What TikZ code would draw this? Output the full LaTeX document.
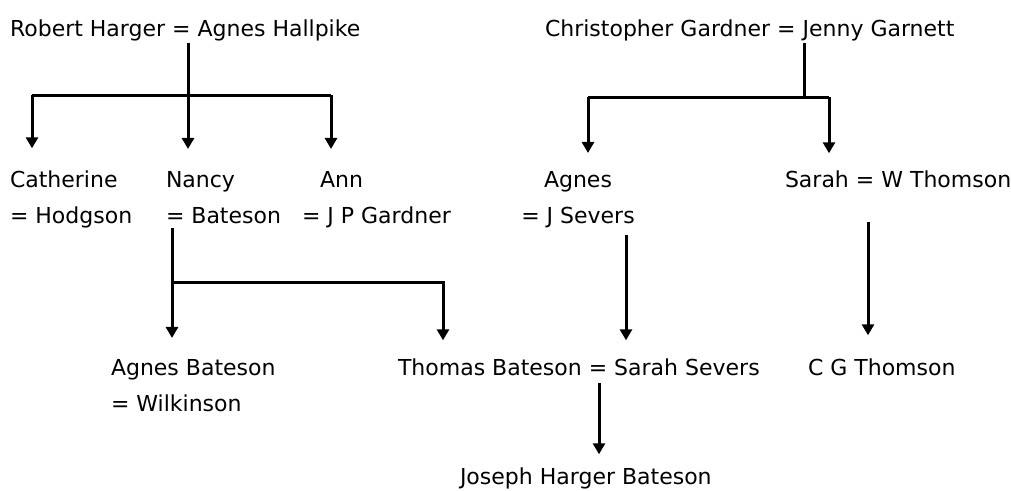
\documentclass[tikz,border=0pt]{standalone}
\usepackage{fontspec}
\setmainfont{DejaVu Sans}
\usetikzlibrary{arrows.meta,positioning}
\tikzstyle{person} = [inner sep=0pt, outer sep=0pt, anchor=base west,
    align=left, font=\fontsize{22}{36}\selectfont]
\tikzstyle{link} = [black, line width=3pt]
\tikzstyle{child} = [link, -{Triangle[length=11pt,width=12pt]},
    shorten >=20pt]

\begin{document}
\begin{tikzpicture}[x=1pt, y=-1pt]
    \useasboundingbox (0,0) rectangle (1011,490);
    % Place nodes
    \node [person] (harger) at (10,36) {Robert Harger = Agnes Hallpike};
    \node [person] (gardner) at (545,36) {Christopher Gardner = Jenny Garnett};
    \node [person] (catherine) at (10,223) {Catherine\\= Hodgson};
    \node [person] (nancy) at (166,223) {Nancy\\= Bateson};
    \node [person] (ann) at (302,223) {\hspace*{18pt}Ann\\= J P Gardner};
    \node [person, anchor=base, align=center] (agnes) at (578,223)
    {Agnes\\= J Severs};
    \node [person] (sarah) at (785,187) {Sarah = W Thomson};
    \node [person] (agnesb) at (111,411) {Agnes Bateson\\= Wilkinson};
    \node [person] (thomas) at (398,375) {Thomas Bateson = Sarah Severs};
    \node [person] (cgt) at (808,375) {C G Thomson};
    \node [person] (joseph) at (460,484) {Joseph Harger Bateson};
    % Junctions
    \coordinate (hj) at (188,95);
    \coordinate (hl) at (32,95);
    \coordinate (hr) at (331,95);
    \coordinate (gj) at (804,97);
    \coordinate (gl) at (588,97);
    \coordinate (gr) at (829,97);
    \coordinate (nj) at (172,282);
    \coordinate (nr) at (443,282);
    \coordinate (sx) at (626,300);
    \coordinate (tx) at (868,300);
    \coordinate (jx) at (599,420);
    % Draw edges
    \draw [link, shorten <=2pt] (harger.south -| hj) -- (hj);
    \draw [link] (hl) -- (hr);
    \draw [child, shorten >=22pt] (hl) -- (hl |- catherine.north);
    \draw [child, shorten >=22pt] (hj) -- (hj |- nancy.north);
    \draw [child, shorten >=22pt] (hr) -- (hr |- ann.north);
    \draw [link, shorten <=2pt] (gardner.south -| gj) -- (gj);
    \draw [link] (gl) -- (gr);
    \draw [child, shorten >=18pt] (gl) -- (gl |- agnes.north);
    \draw [child, shorten >=17pt] (gr) -- (gr |- sarah.north);
    \draw [child, shorten <=5pt, shorten >=21pt] (nancy.south -| nj)
    -- (nj |- agnesb.north);
    \draw [child, shorten >=18pt] (nj) -| (nr |- thomas.north);
    \draw [child, shorten <=8pt, shorten >=18pt] (agnes.south -| sx)
    -- (sx |- thomas.north);
    \draw [child, shorten <=35pt, shorten >=23pt] (sarah.south -| tx)
    -- (tx |- cgt.north);
    \draw [child, shorten <=8pt, shorten >=13pt] (thomas.south -| jx)
    -- (jx |- joseph.north);
\end{tikzpicture}
\end{document}
